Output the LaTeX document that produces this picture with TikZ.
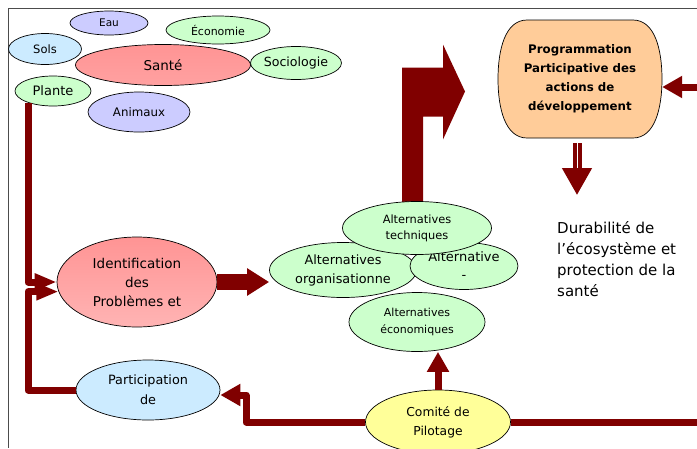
\documentclass[tikz,border=0pt]{standalone}
\usepackage{fontspec}
\setmainfont{DejaVu Sans}
\usetikzlibrary{shapes.geometric,arrows.meta,calc,backgrounds}

\definecolor{darkred}{HTML}{800000}
\definecolor{lav}{HTML}{CCCCFF}
\definecolor{lgreen}{HTML}{CCFFCC}
\definecolor{lblue}{HTML}{CCEBFF}
\definecolor{pinktop}{HTML}{FF9494}
\definecolor{pinkbot}{HTML}{FFB4B4}
\definecolor{lyellow}{HTML}{FFFF99}
\definecolor{peach}{HTML}{FFCC99}

\newcommand{\fs}[2]{\fontsize{#1}{#2}\selectfont}

\begin{document}
\begin{tikzpicture}[x=1pt,y=-1pt,
  bubble/.style={ellipse, draw=black, line width=0.7pt, inner sep=0pt, align=center},
  flow/.style={draw=darkred, line width=7pt, line join=round},
  tip/.style={-{Triangle[length=20pt,width=21pt]}}]
  \useasboundingbox (0,0) rectangle (697,448);

  % frame
  \draw[gray!60!black, line width=1pt] (697,8) -- (8,8) -- (8,448);

  % big bent arrow behind the alternatives
  \coordinate (T) at (417,201.5); % top of the techniques bubble
  \fill[darkred] ($(T)+(-15,4)$) -- ++(0,-138) -- ++(41,0) -- ++(0,-23) -- ++(22,47)
    -- ++(-22,48) -- ++(0,-23) -- ++(-20,0) -- ++(0,89) -- cycle;

  % themes
  \node[bubble, fill=lav, minimum width=78, minimum height=24, font=\fs{10.5}{12}] (Eau) at (109,23) {Eau};
  \node[bubble, fill=lgreen, minimum width=104, minimum height=28, font=\fs{11}{12}] (Eco) at (218,30) {Économie};
  \node[bubble, fill=lblue, minimum width=73, minimum height=31, font=\fs{11.5}{12}] (Sols) at (45,49) {Sols};
  \node[bubble, top color=pinktop, bottom color=pinktop!60!pinkbot, minimum width=175, minimum height=41, font=\fs{13.5}{15}] (Sante) at (163,65) {Santé};
  \node[bubble, fill=lgreen, minimum width=91, minimum height=33, font=\fs{12.6}{15}] (Socio) at (296,63) {Sociologie};
  \node[bubble, fill=lgreen, minimum width=76, minimum height=30, font=\fs{13}{15}] (Plante) at (53,91) {Plante};
  \node[bubble, fill=lav, minimum width=102, minimum height=40, font=\fs{11.8}{13}] (Anim) at (139,112) {Animaux};
  \begin{scope}[on background layer]
    \fill[lav] (Eau.south west) rectangle (Eau.north east);
    \fill[lav] (Anim.south west) rectangle (Anim.north east);
  \end{scope}

  % main nodes
  \node[bubble, top color=pinktop, bottom color=pinkbot, minimum width=160, minimum height=90, font=\fs{13.5}{19}] (Ident) at (137,282) {Identification\\des\\Problèmes et};
  \node[bubble, fill=lblue, minimum width=144, minimum height=60, font=\fs{12.8}{20}] (Part) at (148,390) {Participation\\de};
  \node[bubble, fill=lgreen, minimum width=147, minimum height=55, font=\fs{12.8}{19}] (Org) at (343,270) {Alternatives\\organisationne};
  \node[bubble, fill=lgreen, minimum width=108, minimum height=47, font=\fs{13}{18}] (AltR) at (464,266) {Alternative\\-};
  \node[bubble, fill=lgreen, minimum width=149, minimum height=53, font=\fs{11.4}{16}] (Tech) at (417,228) {Alternatives\\techniques};
  \node[bubble, fill=lgreen, minimum width=136, minimum height=59, font=\fs{11}{17}] (EcoA) at (417,322) {Alternatives\\économiques};
  \node[bubble, fill=lyellow, minimum width=145, minimum height=64, font=\fs{12.3}{19}] (Com) at (438,422) {Comité de\\Pilotage};
  \node[minimum width=164, minimum height=118, inner sep=0pt, align=center,
        font=\bfseries\fs{11.8}{19}] (Prog) at (580,79)
        {Programmation\\Participative des\\actions de\\développement};
  \begin{scope}[on background layer, shift={(Prog.center)}]
    \filldraw[fill=peach, draw=black, line width=0.7pt]
      (-53,-59) -- (53,-59) .. controls (75,-59) and (82,-29) .. (82,0)
      .. controls (82,29) and (75,59) .. (53,59) -- (-53,59)
      .. controls (-75,59) and (-82,29) .. (-82,0)
      .. controls (-82,-29) and (-75,-59) .. (-53,-59) -- cycle;
  \end{scope}
  \node[anchor=north west, inner sep=0pt, align=left, font=\fs{15}{21}] (Dur) at (557,221.5)
        {Durabilité de\\l’écosystème et\\protection de la\\santé};

  % connectors
  \draw[flow, -{Triangle[length=22pt,width=16pt]}] (Plante.205) |- (Ident.west);
  \draw[flow, -{Triangle[length=22pt,width=16pt]}] (Part.west) -- (Part.west -| Plante.205) |- (Ident.187);
  \draw[darkred, line width=16pt, -{Triangle[length=22pt,width=26pt]}] (Ident.east) -- (Ident.east -| Org.west);

  \coordinate (cb) at (246,395);
  \coordinate (rin) at (700,87);
  \coordinate (rout) at (700,423);
  \draw[flow, tip] (Com.north) -- (Com.north |- EcoA.south);
  \draw[flow, tip] (Com.west) -| (cb) -- (cb -| Part.east);
  \draw[flow] (Com.east) -- (Com.east -| rout);
  \draw[flow, tip] (rin) -- (rin -| Prog.east);

  \draw[darkred, line width=9pt, -{Triangle[length=27pt,width=28pt]}] ([xshift=-3pt,yshift=-5pt]Prog.south) -- ++(0,52);
  \draw[white, line width=0.8pt] ([xshift=-3pt,yshift=-5pt]Prog.south) -- ++(0,25);
\end{tikzpicture}
\end{document}
